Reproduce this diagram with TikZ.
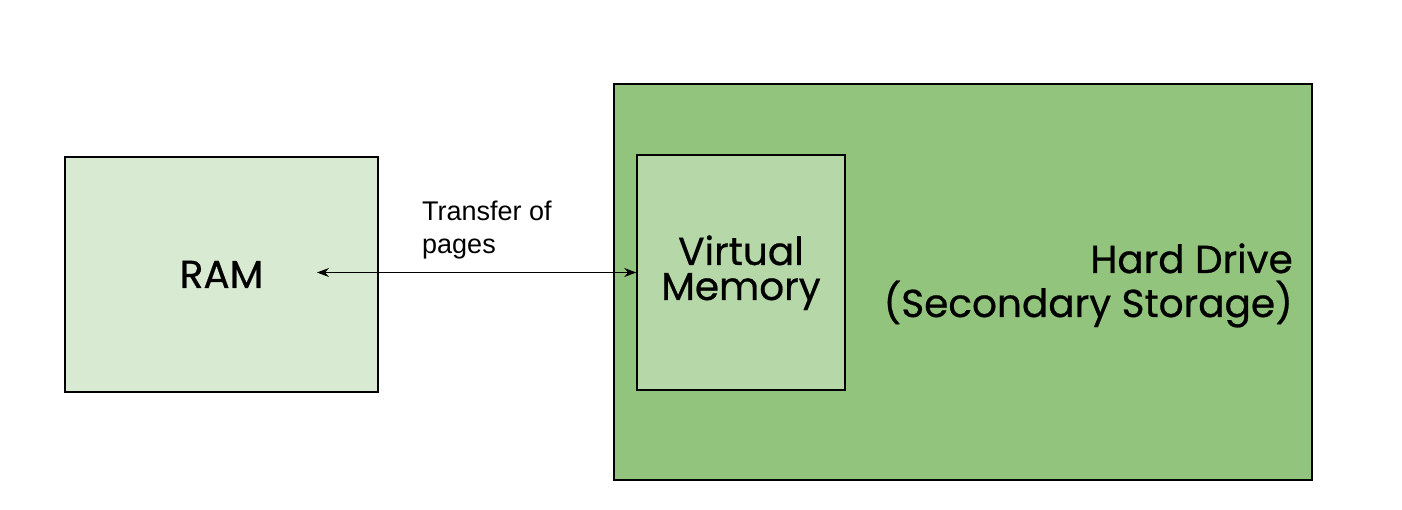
\documentclass[tikz,border=0pt]{standalone}
\usepackage{fontspec}
\setmainfont{Liberation Sans}
\newfontfamily\roundfont[FakeBold=0.6]{Poppins}
\usetikzlibrary{arrows.meta}
\definecolor{ramfill}{HTML}{D9EAD3}
\definecolor{hdfill}{HTML}{93C47D}
\definecolor{vmfill}{HTML}{B6D7A8}
\begin{document}
\begin{tikzpicture}[x=1pt,y=-1pt,
  box/.style={draw=black, line width=1.6pt, rectangle, inner sep=0pt},
  bigtext/.style={font=\roundfont\fontsize{39}{44}\selectfont},
  conn/.style={line width=1.4pt, {Stealth[length=12pt,width=9pt]}-{Stealth[length=12pt,width=9pt]}}]
\useasboundingbox[fill=white] (0,0) rectangle (1402,510);
\node[box, fill=ramfill, minimum width=313pt, minimum height=235pt] (ram) at (221.5,274.5) {};
\node[bigtext, anchor=base, inner sep=0pt] (ramlabel) at (221.5,288) {RAM};
\node[box, fill=hdfill, minimum width=698pt, minimum height=396pt] (hd) at (963,282) {};
\node[bigtext, align=right, anchor=base east, inner sep=0pt] (hdlabel) at (1293,317) {Hard Drive\\(Secondary Storage)};
\node[box, fill=vmfill, minimum width=208pt, minimum height=235pt] (vm) at (741,272.5) {};
\node[font=\roundfont\fontsize{39}{35}\selectfont, align=center, anchor=base, inner sep=0pt] (vmlabel) at (741,300) {Virtual\\Memory};
\coordinate (ramtip) at (317,272.5);
\draw[conn] (ramtip) -- (vm.west);
\node[font=\fontsize{27}{33}\selectfont, align=left, anchor=base west, inner sep=0pt] (xfer) at (422,254) {Transfer of\\pages};
\end{tikzpicture}
\end{document}
